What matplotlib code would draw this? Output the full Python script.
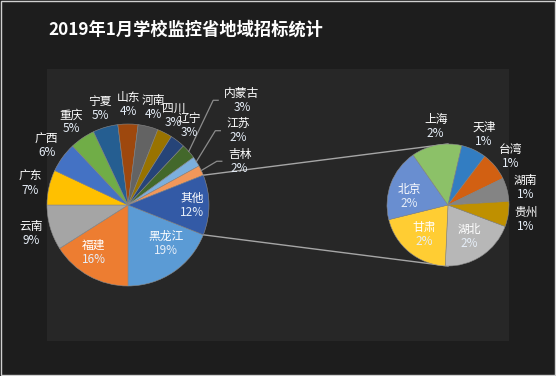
import numpy as np
import matplotlib
matplotlib.use('Agg')
import matplotlib.pyplot as plt
from matplotlib.patches import Rectangle

plt.rcParams['font.family'] = ['Noto Sans CJK SC', 'DejaVu Sans']

# data (percent of all tenders)
main_names = ['黑龙江', '福建', '云南', '广东', '广西', '重庆', '宁夏', '山东', '河南',
              '四川', '辽宁', '内蒙古', '江苏', '吉林']
main_vals = [19, 16, 9, 7, 6, 5, 5, 4, 4, 3, 3, 3, 2, 2]
sub_names = ['湖北', '甘肃', '北京', '上海', '天津', '台湾', '湖南', '贵州']
sub_vals = [2.4, 2.45, 2.3, 1.6, 0.8, 0.9, 0.75, 0.8]
other_name = '其他'

main_colors = ['#5B9BD5', '#ED7D31', '#A5A5A5', '#FFC000', '#4472C4', '#70AD47', '#255E91',
               '#9E480E', '#636363', '#997300', '#264478', '#43682B', '#7CAFDD', '#F1975A',
               '#335AA6']
sub_colors = ['#B7B7B7', '#FFCD33', '#698ED0', '#8CC168', '#327DC2', '#D26012', '#848484', '#BF9000']

W, H = 556, 376
fig = plt.figure(figsize=(W / 100, H / 100), dpi=100)
fig.patch.set_facecolor('#1d1d1d')
ax = fig.add_axes([0, 0, 1, 1])

# frame + plot area
ax.add_patch(Rectangle((0.5, 1.5), W - 2, H - 2, fill=False, ec='#d0d0d0', lw=1, zorder=0))
ax.add_patch(Rectangle((47, H - 341), 462, 272, fc='#272727', ec='none', zorder=0))

ax.text(48, H - 30, '2019年1月学校监控省地域招标统计', color='white', fontsize=12.4,
        fontweight='bold', ha='left', va='center')

c1, r1 = (128, H - 205), 81
c2, r2 = (448, H - 205), 61

vals1 = main_vals + [sum(sub_vals)]
names1 = main_names + [other_name]
other_half = vals1[-1] / sum(vals1) * 180

# connector lines between the two pies
for s in (1, -1):
    a = np.deg2rad(s * other_half)
    ax.plot([c1[0] + r1 * np.cos(a), c2[0]], [c1[1] + r1 * np.sin(a), c2[1] + s * r2],
            color='#a6a6a6', lw=1, zorder=1)

w1, _ = ax.pie(vals1, colors=main_colors, startangle=-other_half, counterclock=False,
               center=c1, radius=r1, frame=True,
               wedgeprops=dict(edgecolor='#8a8a8a', linewidth=0.4))
w2, _ = ax.pie(sub_vals, colors=sub_colors, startangle=-20.6, counterclock=False,
               center=c2, radius=r2, frame=True,
               wedgeprops=dict(edgecolor='#8a8a8a', linewidth=0.4))
ax.set_xlim(0, W)
ax.set_ylim(0, H)
ax.set_aspect('equal')
ax.axis('off')

inside1 = {'黑龙江': (0.67, -45), '福建': (0.72, -126), '其他': (0.79, 0)}
leader1 = {'内蒙古': (1.91, 42.6), '江苏': (1.64, 34), '吉林': (1.48, 21.4)}
fs = 8.5


def label(cx, cy, ang, f, r, name, pct):
    a = np.deg2rad(ang)
    x, y = cx + f * r * np.cos(a), cy + f * r * np.sin(a)
    ax.text(x, y + 7, name, color='white', fontsize=fs, ha='center', va='center', zorder=5)
    ax.text(x, y - 7, pct, color='#e6eef8', fontsize=fs, ha='center', va='center', zorder=5)
    return x, y


for w, n, v in zip(w1, names1, vals1):
    mid = (w.theta1 + w.theta2) / 2
    pct = f'{v:.0f}%'
    if n in inside1:
        f, ang = inside1[n]
        label(c1[0], c1[1], ang, f, r1, n, pct)
    elif n in leader1:
        f, ang = leader1[n]
        x, y = label(c1[0], c1[1], ang, f, r1, n, pct)
        end = x - len(n) * 11.8 / 2 - 6
        a = np.deg2rad(mid)
        ax.plot([c1[0] + r1 * np.cos(a), end - 5, end], [c1[1] + r1 * np.sin(a), y, y],
                color='#8c8c8c', lw=0.9, zorder=4)
    else:
        label(c1[0], c1[1], mid, 1.24, r1, n, pct)

for w, n, v in zip(w2, sub_names, sub_vals):
    mid = (w.theta1 + w.theta2) / 2
    pct = f'{v:.0f}%'
    if n in ('湖北', '甘肃'):
        label(c2[0], c2[1], mid, 0.62, r2, n, pct)
    elif n == '北京':
        label(c2[0], c2[1], 168, 0.65, r2, n, pct)
    else:
        label(c2[0], c2[1], mid - 2, 1.3, r2, n, pct)

fig.savefig('out.png', dpi=100, facecolor=fig.get_facecolor())
